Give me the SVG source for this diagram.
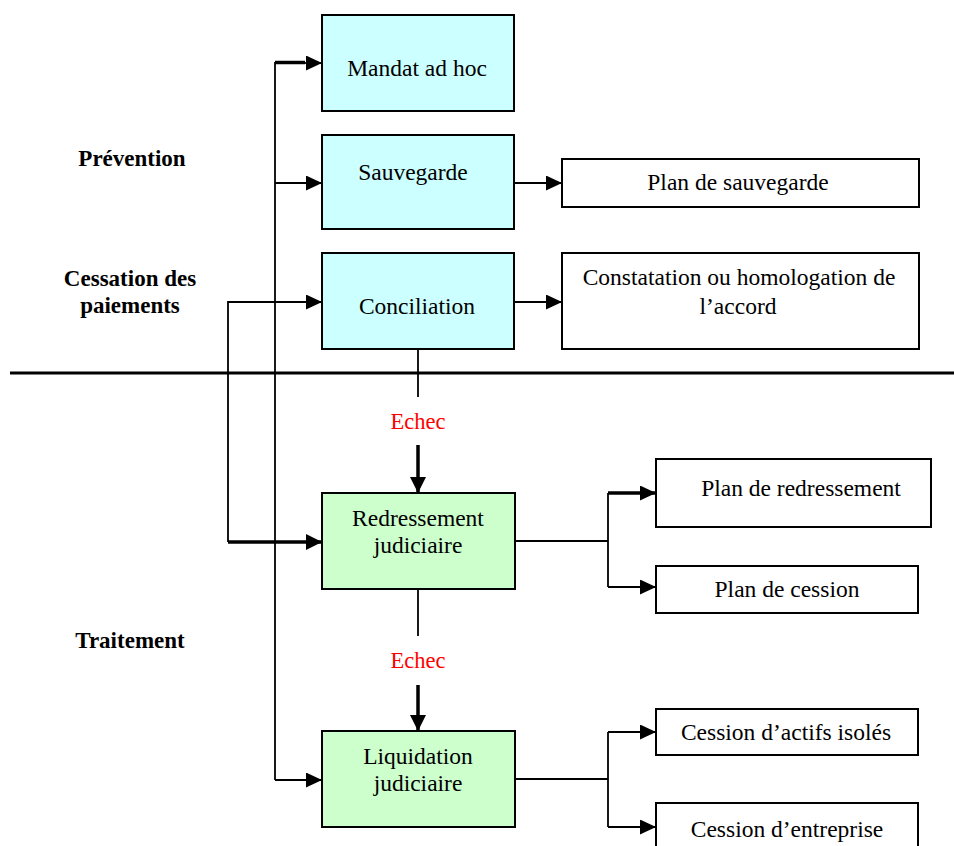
<svg xmlns="http://www.w3.org/2000/svg" width="954" height="846" viewBox="0 0 954 846">
<style>
  .box{stroke:#000;stroke-width:2}
  .cyan{fill:#ccffff}
  .green{fill:#ccffcc}
  .white{fill:#fff}
  .t{font-family:"Liberation Serif","Times New Roman",serif;font-size:23.5px;fill:#000;text-anchor:middle}
  .lbl{font-family:"Liberation Serif","Times New Roman",serif;font-size:23px;font-weight:bold;fill:#000;text-anchor:middle}
  .red{fill:#ff0000;font-size:22.5px}
  .ln{fill:none;stroke:#000;stroke-width:1.8}
  .thick{fill:none;stroke:#000;stroke-width:3.5}
</style>
<defs>
  <marker id="ah" markerUnits="userSpaceOnUse" markerWidth="18" markerHeight="16" refX="16" refY="7.5" orient="auto">
    <path d="M0,0 L16,7.5 L0,15 z" fill="#000"/>
  </marker>
  <marker id="ahb" markerUnits="userSpaceOnUse" markerWidth="18" markerHeight="17" refX="16" refY="8" orient="auto">
    <path d="M0,0 L16,8 L0,16 z" fill="#000"/>
  </marker>
</defs>
<rect width="954" height="846" fill="#fff"/>

<g id="labels">
  <text class="lbl" x="132" y="166">Prévention</text>
  <text class="lbl" x="130" y="286">Cessation des</text>
  <text class="lbl" x="130" y="313">paiements</text>
  <text class="lbl" x="130" y="648">Traitement</text>
</g>

<line x1="10" y1="373" x2="954" y2="373" stroke="#000" stroke-width="3"/>

<g id="connectors">
  <path class="ln" d="M275,780 V62"/>
  <path class="thick" d="M275,62.5 H305" stroke-width="2.5"/>
  <path class="ln" d="M300,63 H322" marker-end="url(#ah)"/>
  <path class="ln" d="M275,183 H322" marker-end="url(#ah)"/>
  <path class="ln" d="M228,542 V302 H322" marker-end="url(#ah)"/>
  <path class="thick" d="M228,542 H322" stroke-width="3" marker-end="url(#ahb)"/>
  <path class="ln" d="M275,780 H322" marker-end="url(#ah)"/>
  <path class="ln" d="M514,183 H562" marker-end="url(#ah)"/>
  <path class="ln" d="M514,302 H562" marker-end="url(#ah)"/>
  <path class="ln" d="M418,349 V397"/>
  <path class="thick" d="M418,445 V493" marker-end="url(#ahb)"/>
  <path class="ln" d="M418,589 V636"/>
  <path class="thick" d="M418,685 V731" marker-end="url(#ahb)"/>
  <path class="ln" d="M515,541 H608"/>
  <path class="ln" d="M608,493 V587"/>
  <path class="thick" d="M608,493 H656" stroke-width="3" marker-end="url(#ah)"/>
  <path class="ln" d="M608,587 H656" marker-end="url(#ah)"/>
  <path class="ln" d="M515,779 H608"/>
  <path class="ln" d="M608,732 V827"/>
  <path class="ln" d="M608,732 H656" marker-end="url(#ah)"/>
  <path class="ln" d="M608,827 H656" marker-end="url(#ah)"/>
  <text class="t red" x="418" y="429">Echec</text>
  <text class="t red" x="418" y="668">Echec</text>
</g>

<g id="mandat">
  <rect class="box cyan" x="322" y="15" width="192" height="96"/>
  <text class="t" x="417" y="76">Mandat ad hoc</text>
</g>
<g id="sauvegarde">
  <rect class="box cyan" x="322" y="135" width="192" height="94"/>
  <text class="t" x="413" y="180" font-size="21.5">Sauvegarde</text>
</g>
<g id="conciliation">
  <rect class="box cyan" x="322" y="253" width="192" height="96"/>
  <text class="t" x="417" y="314">Conciliation</text>
</g>
<g id="plan-sauvegarde">
  <rect class="box white" x="562" y="159" width="357" height="48"/>
  <text class="t" x="738" y="190">Plan de sauvegarde</text>
</g>
<g id="constatation">
  <rect class="box white" x="562" y="253" width="357" height="96"/>
  <text class="t" x="739" y="285">Constatation ou homologation de</text>
  <text class="t" x="738" y="314">l’accord</text>
</g>
<g id="redressement">
  <rect class="box green" x="322" y="493" width="193" height="96"/>
  <text class="t" x="418" y="526">Redressement</text>
  <text class="t" x="418" y="553">judiciaire</text>
</g>
<g id="liquidation">
  <rect class="box green" x="322" y="731" width="193" height="96"/>
  <text class="t" x="418" y="764">Liquidation</text>
  <text class="t" x="418" y="791">judiciaire</text>
</g>
<g id="plan-redressement">
  <rect class="box white" x="656" y="459" width="275" height="68"/>
  <text class="t" x="801" y="496">Plan de redressement</text>
</g>
<g id="plan-cession">
  <rect class="box white" x="656" y="566" width="262" height="47"/>
  <text class="t" x="787" y="597">Plan de cession</text>
</g>
<g id="cession-actifs">
  <rect class="box white" x="656" y="709" width="262" height="46"/>
  <text class="t" x="786" y="740">Cession d’actifs isolés</text>
</g>
<g id="cession-entreprise">
  <rect class="box white" x="656" y="803" width="262" height="60"/>
  <text class="t" x="787" y="837">Cession d’entreprise</text>
</g>
</svg>
